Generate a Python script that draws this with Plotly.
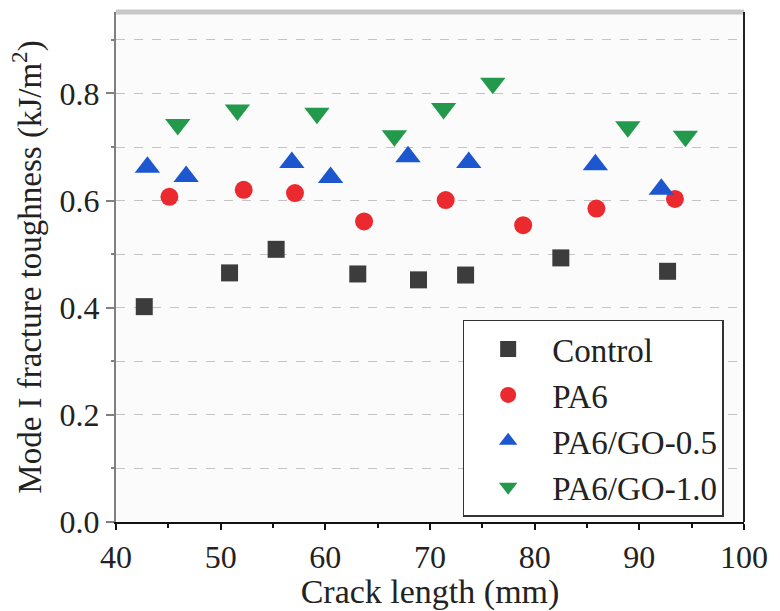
import plotly.graph_objects as go

# Data
ctrl_x = [42.7, 50.85, 55.3, 63.1, 68.9, 73.4, 82.5, 92.7]
ctrl_y = [0.402, 0.465, 0.509, 0.463, 0.452, 0.461, 0.493, 0.468]

pa6_x = [45.1, 52.2, 57.1, 63.7, 71.5, 78.9, 85.9, 93.4]
pa6_y = [0.607, 0.620, 0.614, 0.561, 0.601, 0.554, 0.585, 0.603]

go05_x = [43.0, 46.7, 56.8, 60.5, 67.9, 73.7, 85.8, 92.1]
go05_y = [0.662, 0.645, 0.671, 0.643, 0.682, 0.671, 0.667, 0.621]

go10_x = [45.9, 51.6, 59.2, 66.6, 71.3, 76.0, 88.9, 94.4]
go10_y = [0.742, 0.769, 0.763, 0.721, 0.772, 0.819, 0.738, 0.720]

series = [
    ("Control", ctrl_x, ctrl_y, "square", "#3c3c3c", 17),
    ("PA6", pa6_x, pa6_y, "circle", "#ea2a2e", 18),
    ("PA6/GO-0.5", go05_x, go05_y, "triangle-up", "#1c57cf", 22),
    ("PA6/GO-1.0", go10_x, go10_y, "triangle-down", "#23994c", 22),
]

FONT = "'Liberation Serif', 'Times New Roman', 'DejaVu Serif', serif"
fig = go.Figure()
for name, xs, ys, sym, col, sz in series:
    fig.add_trace(go.Scatter(
        x=xs, y=ys, mode="markers", name=name,
        marker=dict(symbol=sym, color=col, size=sz, line=dict(width=0)),
    ))

fig.update_layout(
    width=780, height=611,
    margin=dict(l=116, r=28, t=12, b=83),
    paper_bgcolor="#ffffff",
    plot_bgcolor="#fbfbfb",
    font=dict(family=FONT, size=32, color="#222222"),
    showlegend=True,
    legend=dict(
        x=0.552, y=0.397, xanchor="left", yanchor="top",
        bgcolor="#ffffff", bordercolor="#333333", borderwidth=1.5,
        font=dict(family=FONT, size=33, color="#222222"),
        itemwidth=78, tracegroupgap=0,
    ),
)

fig.update_xaxes(
    range=[40, 100], dtick=10, tick0=40,
    showline=True, linecolor="#111111", linewidth=2,
    ticks="outside", ticklen=6, tickwidth=2, tickcolor="#111111",
    minor=dict(dtick=5, ticks="outside", ticklen=4, tickcolor="#111111", tickwidth=2, showgrid=False),
    showgrid=False, zeroline=False,
    title=dict(text="Crack length (mm)", standoff=0, font=dict(family=FONT, size=34)),
    tickfont=dict(family=FONT, size=32),
)
fig.update_yaxes(
    range=[0, 0.952], dtick=0.2, tick0=0, tickformat=".1f",
    showline=True, linecolor="#808080", linewidth=2,
    ticks="outside", ticklen=8, tickwidth=2, tickcolor="#808080",
    showgrid=True, gridcolor="#c4c4c4", griddash="dash", gridwidth=1,
    minor=dict(dtick=0.1, ticks="outside", ticklen=3, tickcolor="#808080", tickwidth=2,
               showgrid=True, gridcolor="#c4c4c4", griddash="dash", gridwidth=1),
    zeroline=False,
    title=dict(text="Mode I fracture toughness (kJ/m<sup>2</sup>)", standoff=8, font=dict(family=FONT, size=33)),
    tickfont=dict(family=FONT, size=32),
)

# frame: light grey top, dark right
fig.add_shape(type="line", xref="paper", yref="paper", x0=0, x1=1, y0=1, y1=1,
              line=dict(color="#c8c8c8", width=5))
fig.add_shape(type="line", xref="paper", yref="paper", x0=1, x1=1, y0=0, y1=1,
              line=dict(color="#222222", width=2))

fig.write_html("out.html")
